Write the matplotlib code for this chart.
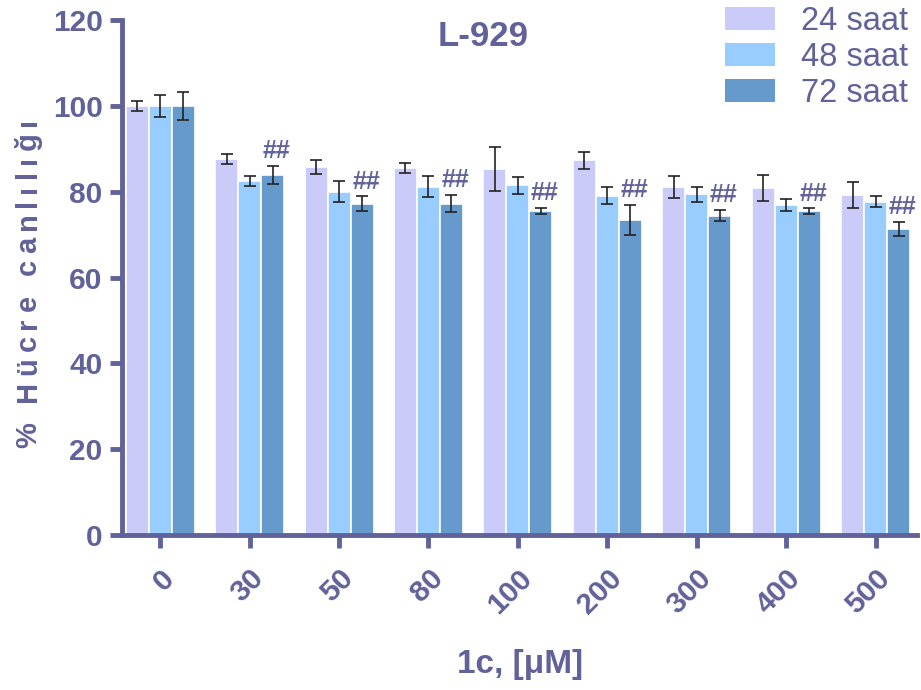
import matplotlib
matplotlib.use("Agg")
import matplotlib.pyplot as plt
from matplotlib.patches import Patch
from matplotlib import font_manager
from matplotlib.textpath import TextToPath
import numpy as np

plt.rcParams['font.family'] = ['Liberation Sans', 'DejaVu Sans']

concentrations = ["0", "30", "50", "80", "100", "200", "300", "400", "500"]
series_names = ["24 saat", "48 saat", "72 saat"]

viability_24h = [100.0, 87.6, 85.7, 85.5, 85.2, 87.3, 81.1, 80.9, 79.3]
viability_48h = [100.0, 82.5, 80.0, 81.2, 81.5, 79.1, 79.4, 76.9, 77.7]
viability_72h = [100.0, 84.0, 77.2, 77.2, 75.5, 73.5, 74.4, 75.5, 71.3]

sem_24h = [1.1, 1.1, 1.6, 1.1, 5.1, 1.9, 2.6, 3.0, 3.0]
sem_48h = [2.5, 1.1, 2.4, 2.4, 2.0, 1.9, 1.8, 1.5, 1.2]
sem_72h = [3.3, 2.1, 1.7, 2.0, 0.7, 3.5, 1.3, 0.6, 1.7]

# significance marks shown above the 72 h bars
significance_72h = ["", "##", "##", "##", "##", "##", "##", "##", "##"]

colors = ["#cbcbf9", "#99ccff", "#6699cc"]
ink = "#62629a"

# a narrow face for the title when it is available
try:
    font_manager.findfont(font_manager.FontProperties(family="Liberation Sans Narrow"),
                          fallback_to_default=False)
    title_family, title_size = ["Liberation Sans Narrow", "DejaVu Sans"], 30
except ValueError:
    title_family, title_size = ["Liberation Sans", "DejaVu Sans"], 25

W, H = 921, 690
fig = plt.figure(figsize=(W / 100, H / 100), dpi=100)
ax = fig.add_axes([0.1325, 0.2246, 0.8632, 0.7464])

x = np.arange(len(concentrations))
width = 0.257
values = [viability_24h, viability_48h, viability_72h]
errors = [sem_24h, sem_48h, sem_72h]

for i, (vals, errs, col, name) in enumerate(zip(values, errors, colors, series_names)):
    pos = x + (i - 1) * width
    ax.bar(pos, vals, width=width, color=col, edgecolor="white", linewidth=1.2,
           label=name, zorder=2)
    ax.errorbar(pos, vals, yerr=errs, fmt="none", ecolor="#222222",
                elinewidth=1.2, capsize=4, capthick=1.2, zorder=3)

for xi, v, e, mark in zip(x, viability_72h, sem_72h, significance_72h):
    if mark:
        ax.text(xi + width + 0.045, v + e + 1.8, mark, ha="center", va="baseline",
                fontsize=18, fontweight="bold", color=ink)

ax.set_xlim(-0.425, 8.46)
ax.set_ylim(0, 120)
ax.set_yticks(np.arange(0, 121, 20))
ax.set_xticks(x)
ax.set_xticklabels(concentrations, rotation=45, ha="right", rotation_mode="anchor")

for side in ["top", "right"]:
    ax.spines[side].set_visible(False)
for side in ["left", "bottom"]:
    ax.spines[side].set_color(ink)
    ax.spines[side].set_linewidth(3.5)

ax.tick_params(axis="both", colors=ink, width=3.5, length=9, labelsize=21.5)
ax.tick_params(axis="x", pad=12)
ax.tick_params(axis="y", pad=5)
for lab in ax.get_xticklabels() + ax.get_yticklabels():
    lab.set_fontweight("bold")
    lab.set_color(ink)

# letter-spaced y-axis title, laid out glyph by glyph from the bottom up
ylabel_text = "% Hücre canlılığı"
ylabel_size = 21
tracking_px = 6.0
baseline_x_px = 36
prop = font_manager.FontProperties(family=["Liberation Sans", "DejaVu Sans"],
                                   weight="bold", size=ylabel_size)
t2p = TextToPath()
advances = []
for ch in ylabel_text:
    w_pt = t2p.get_text_width_height_descent(ch, prop, ismath=False)[0]
    advances.append(w_pt * 100 / 72)
total = sum(advances) + tracking_px * (len(advances) - 1)
y_px = 283 + total / 2  # start of the string, in pixels from the top
for ch, adv in zip(ylabel_text, advances):
    fig.text(baseline_x_px / W, 1 - y_px / H, ch, rotation=90, ha="left",
             va="baseline", fontproperties=prop, color=ink, rotation_mode="anchor")
    y_px -= adv + tracking_px

fig.text(520 / W, 1 - 664 / H, "1c, [μM]", ha="center", va="center",
         fontsize=24, fontweight="bold", color=ink)

fig.text(483 / W, 1 - 36 / H, "L-929", ha="center", va="center",
         fontsize=title_size, fontweight="bold", color=ink, family=title_family)

handles = [Patch(facecolor=c, edgecolor="none") for c in colors]
leg = fig.legend(handles, series_names, loc="upper right", bbox_to_anchor=(1.011, 1.025),
                 frameon=False, fontsize=23.5, handlelength=1.55, handleheight=0.72,
                 labelspacing=0.16, handletextpad=0.8, labelcolor=ink,
                 borderaxespad=0.3)

fig.savefig("out.png", dpi=100)
